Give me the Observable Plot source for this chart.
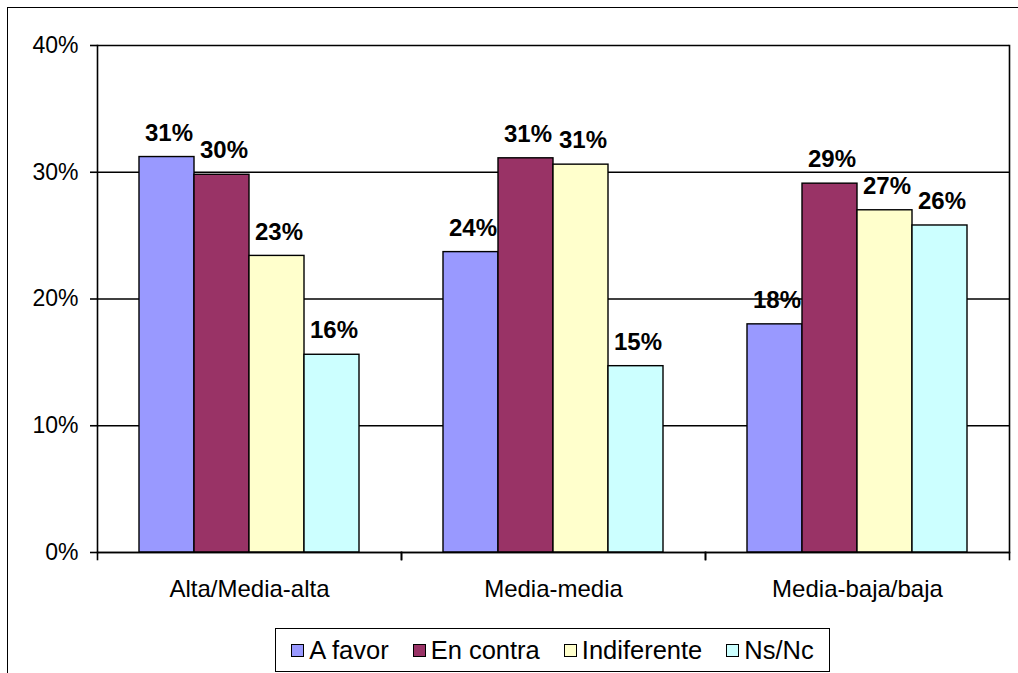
<!DOCTYPE html>
<html>
<head>
<meta charset="utf-8">
<script src="https://cdn.jsdelivr.net/npm/d3@7"></script>
<script src="https://cdn.jsdelivr.net/npm/@observablehq/plot@0.6"></script>
<style>
  html, body { margin: 0; padding: 0; background: #fff; overflow: hidden; }
  #wrap { position: relative; width: 1018px; height: 673px; overflow: hidden; font-family: "Liberation Sans", Arial, sans-serif; }
  #outer { position: absolute; left: 7px; top: 7px; width: 1200px; height: 900px; border: 1px solid #000; }
  #chart { position: absolute; left: 0; top: 0; }
  #legend { position: absolute; left: 275px; top: 628px; width: 555px; height: 44px; box-sizing: border-box;
    border: 1.5px solid #000; background: #fff; display: flex; align-items: center; justify-content: center;
    font-size: 25.5px; color: #000; }
  .item { display: flex; align-items: center; margin: 0 12px; }
  .sw { width: 11px; height: 11px; border: 1px solid #000; margin-right: 5px; }
</style>
</head>
<body>
<div id="wrap">
  <div id="outer"></div>
  <div id="chart"></div>
  <div id="legend"></div>
</div>
<script>
const categories = ["Alta/Media-alta", "Media-media", "Media-baja/baja"];
const series = ["A favor", "En contra", "Indiferente", "Ns/Nc"];
const colors = ["#9999FF", "#993366", "#FFFFCC", "#CCFFFF"];
const aFavor      = [0.312, 0.237, 0.180];
const enContra    = [0.298, 0.311, 0.291];
const indiferente = [0.234, 0.306, 0.270];
const nsNc        = [0.156, 0.147, 0.258];
const yTicks = [0, 0.1, 0.2, 0.3, 0.4];

const seriesValues = [aFavor, enContra, indiferente, nsNc];
const data = [];
categories.forEach((c, i) => series.forEach((s, j) => data.push({cat: c, serie: s, value: seriesValues[j][i]})));

const W = 1018, H = 620, mt = 45, mb = 68, ml = 97, mr = 9;
const plotH = H - mt - mb;
const fmt = d3.format(".0%");
const font = "'Liberation Sans', Arial, sans-serif";
const lw = 1.6;

const chart = Plot.plot({
  width: W, height: H,
  marginTop: mt, marginBottom: mb, marginLeft: ml, marginRight: mr,
  style: {fontFamily: font, background: "transparent", color: "#000"},
  fx: {domain: categories, padding: 0},
  x: {domain: series, paddingInner: 0, paddingOuter: 0.74, axis: null},
  y: {domain: [0, 0.4]},
  color: {domain: series, range: colors},
  marks: [
    Plot.gridY(yTicks, {stroke: "#000", strokeOpacity: 1, strokeWidth: lw}),
    Plot.barY(data, {fx: "cat", x: "serie", y: "value", fill: "serie", stroke: "#000", strokeWidth: 1.4}),
    Plot.ruleY([0], {stroke: "#000", strokeWidth: lw}),
    Plot.frame({anchor: "left", fx: [categories[0]], stroke: "#000", strokeWidth: lw}),
    Plot.frame({anchor: "right", fx: [categories[categories.length - 1]], stroke: "#000", strokeWidth: lw}),
    Plot.frame({anchor: "left", insetTop: plotH, insetBottom: -7, stroke: "#000", strokeWidth: lw}),
    Plot.frame({anchor: "right", insetTop: plotH, insetBottom: -7, stroke: "#000", strokeWidth: lw}),
    Plot.text(data, {fx: "cat", x: "serie", y: "value", text: d => fmt(d.value), dy: -24, dx: 2,
      fontWeight: "bold", fontSize: 24, fill: "#000"}),
    Plot.axisY({anchor: "left", ticks: yTicks, tickFormat: fmt, tickSize: 7, tickPadding: 12,
      fontSize: 23, label: null, stroke: "#000", strokeWidth: lw}),
    Plot.axisFx({anchor: "bottom", tickSize: 0, tickPadding: 27, fontSize: 24, label: null})
  ]
});
document.getElementById("chart").appendChild(chart);

const legend = document.getElementById("legend");
series.forEach((s, i) => {
  const it = document.createElement("div");
  it.className = "item";
  const sw = document.createElement("div");
  sw.className = "sw";
  sw.style.background = colors[i];
  const t = document.createElement("span");
  t.textContent = s;
  it.appendChild(sw);
  it.appendChild(t);
  legend.appendChild(it);
});
</script>
</body>
</html>
